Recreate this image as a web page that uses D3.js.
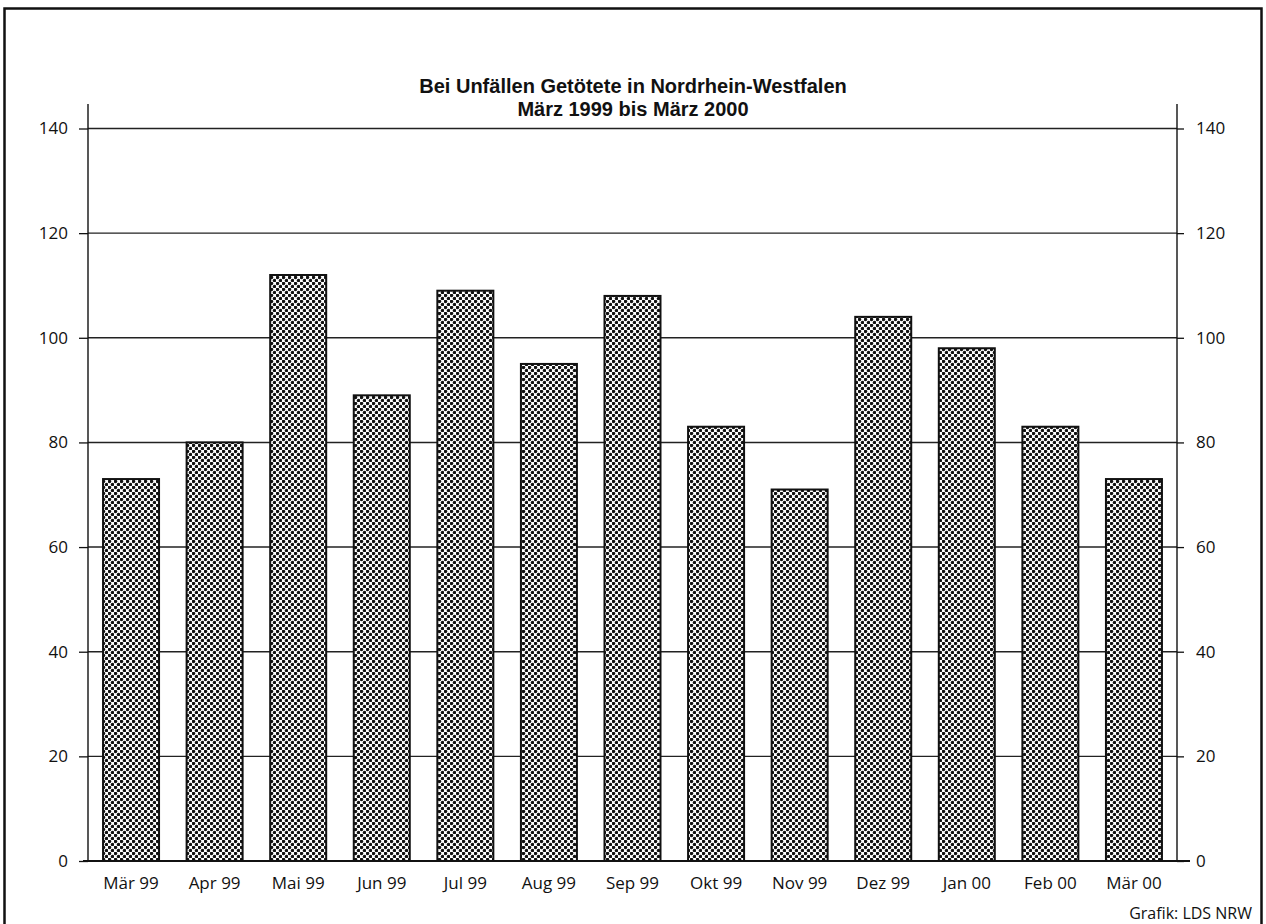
<!DOCTYPE html>
<html lang="de">
<head>
<meta charset="UTF-8">
<title>Bei Unfällen Getötete in Nordrhein-Westfalen</title>
<style>
  body { margin: 0; padding: 0; background: #ffffff; }
  svg { display: block; font-family: "Open Sans", Arial, sans-serif; }
</style>
</head>
<body>
<svg width="1266" height="924"></svg>
<script src="https://d3js.org/d3.v7.min.js"></script>
<script>
// data
const months = ["Mär 99", "Apr 99", "Mai 99", "Jun 99", "Jul 99", "Aug 99", "Sep 99",
                "Okt 99", "Nov 99", "Dez 99", "Jan 00", "Feb 00", "Mär 00"];
const killed = [73, 80, 112, 89, 109, 95, 108, 83, 71, 104, 98, 83, 73];
const yTicks = [0, 20, 40, 60, 80, 100, 120, 140];
const titleLines = ["Bei Unfällen Getötete in Nordrhein-Westfalen", "März 1999 bis März 2000"];

const width = 1266, height = 924;
const plotLeft = 88, plotRight = 1177, axisTop = 104, plotBottom = 861;

const svg = d3.select("svg").attr("viewBox", "0 0 " + width + " " + height);

// dotted fill like the print raster
const defs = svg.append("defs");
const pat = defs.append("pattern")
    .attr("id", "dots")
    .attr("patternUnits", "userSpaceOnUse")
    .attr("width", 6).attr("height", 6);
pat.append("rect").attr("width", 6).attr("height", 6).attr("fill", "#fff");
pat.append("circle").attr("cx", 1.5).attr("cy", 1.5).attr("r", 1.75).attr("fill", "#111");
pat.append("circle").attr("cx", 4.5).attr("cy", 4.5).attr("r", 1.75).attr("fill", "#111");

// outer frame (bottom edge runs off the picture)
svg.append("path")
    .attr("d", "M4.5,930 L4.5,8.5 L1261.5,8.5 L1261.5,930")
    .attr("fill", "none")
    .attr("stroke", "#111")
    .attr("stroke-width", 2.5);

const x = d3.scaleBand().domain(months).range([plotLeft, plotRight]).paddingInner(0.33).paddingOuter(0.18);
const y = d3.scaleLinear().domain([0, 140]).range([plotBottom, 128.5]);

// gridlines
svg.append("g").selectAll("line")
    .data(yTicks.filter(d => d > 0))
    .join("line")
    .attr("x1", plotLeft).attr("x2", plotRight)
    .attr("y1", d => y(d)).attr("y2", d => y(d))
    .attr("stroke", "#222").attr("stroke-width", 1.4);

// bars
svg.append("g").selectAll("rect")
    .data(months)
    .join("rect")
    .attr("x", d => x(d))
    .attr("y", (d, i) => y(killed[i]))
    .attr("width", x.bandwidth())
    .attr("height", (d, i) => y(0) - y(killed[i]))
    .attr("fill", "url(#dots)")
    .attr("stroke", "#111")
    .attr("stroke-width", 2);

// left axis
const yl = svg.append("g")
    .attr("transform", "translate(" + plotLeft + ",0)")
    .call(d3.axisLeft(y).tickValues(yTicks).tickSize(9).tickPadding(11));
// right axis
const yr = svg.append("g")
    .attr("transform", "translate(" + plotRight + ",0)")
    .call(d3.axisRight(y).tickValues(yTicks).tickSize(7).tickPadding(12));

[yl, yr].forEach(g => {
    g.select(".domain").remove();
    g.selectAll("line").attr("stroke", "#111").attr("stroke-width", 1.3);
    g.selectAll("text").attr("font-size", 17).attr("fill", "#111")
        .attr("font-family", "'Open Sans', Arial, sans-serif");
    g.append("line").attr("x1", 0).attr("x2", 0).attr("y1", axisTop).attr("y2", plotBottom)
        .attr("stroke", "#111").attr("stroke-width", 1.4);
});

// baseline
svg.append("line")
    .attr("x1", plotLeft - 5).attr("x2", plotRight + 13)
    .attr("y1", y(0)).attr("y2", y(0))
    .attr("stroke", "#111").attr("stroke-width", 2);

// month labels
svg.append("g").selectAll("text")
    .data(months)
    .join("text")
    .attr("x", d => x(d) + x.bandwidth() / 2)
    .attr("y", 889)
    .attr("text-anchor", "middle")
    .attr("font-size", 17)
    .attr("fill", "#111")
    .text(d => d);

// title, two separate lines
svg.append("g").selectAll("text")
    .data(titleLines)
    .join("text")
    .attr("x", 633)
    .attr("y", (d, i) => 93 + i * 23)
    .attr("text-anchor", "middle")
    .attr("font-family", "'Liberation Sans', Arial, sans-serif")
    .attr("font-size", 20)
    .attr("font-weight", "bold")
    .attr("fill", "#111")
    .text(d => d);

// source note
svg.append("text")
    .attr("x", 1252).attr("y", 919)
    .attr("text-anchor", "end")
    .attr("font-size", 16)
    .attr("fill", "#111")
    .text("Grafik: LDS NRW");
</script>
</body>
</html>
